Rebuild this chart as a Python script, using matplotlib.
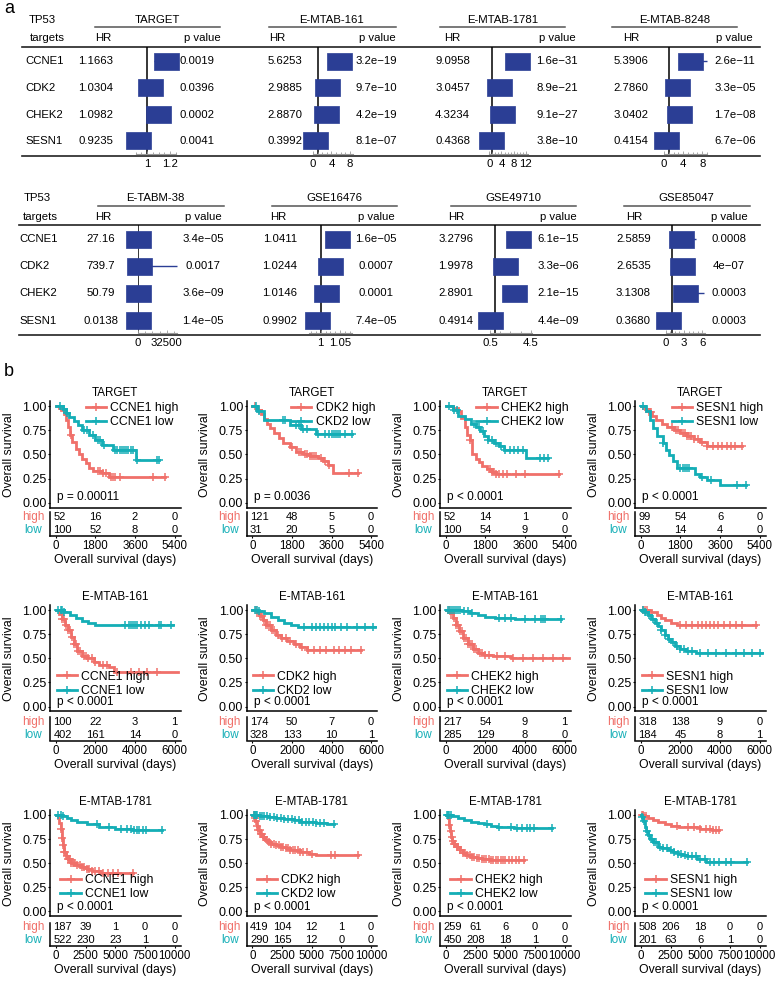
import numpy as np
import matplotlib
matplotlib.use('Agg')
import matplotlib.pyplot as plt
from matplotlib.path import Path
from matplotlib.lines import Line2D
from matplotlib.ticker import AutoMinorLocator
from matplotlib.transforms import blended_transform_factory

plt.rcParams['font.family'] = ['Liberation Sans', 'DejaVu Sans']

W, H = 777, 982
RED = '#F0706A'
TEAL = '#14AEB6'
NAVY = '#2B3E95'

genes = ['CCNE1', 'CDK2', 'CHEK2', 'SESN1']

# ---------------- panel a: cox results ----------------
forest_names = ['TARGET', 'E-MTAB-161', 'E-MTAB-1781', 'E-MTAB-8248',
                'E-TABM-38', 'GSE16476', 'GSE49710', 'GSE85047']
forest_hr = [['1.1663', '1.0304', '1.0982', '0.9235'],
             ['5.6253', '2.9885', '2.8870', '0.3992'],
             ['9.0958', '3.0457', '4.3234', '0.4368'],
             ['5.3906', '2.7860', '3.0402', '0.4154'],
             ['27.16', '739.7', '50.79', '0.0138'],
             ['1.0411', '1.0244', '1.0146', '0.9902'],
             ['3.2796', '1.9978', '2.8901', '0.4914'],
             ['2.5859', '2.6535', '3.1308', '0.3680']]
forest_p = [['0.0019', '0.0396', '0.0002', '0.0041'],
            ['3.2e−19', '9.7e−10', '4.2e−19', '8.1e−07'],
            ['1.6e−31', '8.9e−21', '9.1e−27', '3.8e−10'],
            ['2.6e−11', '3.3e−05', '1.7e−08', '6.7e−06'],
            ['3.4e−05', '0.0017', '3.6e−09', '1.4e−05'],
            ['1.6e−05', '0.0007', '0.0001', '7.4e−05'],
            ['6.1e−15', '3.3e−06', '2.1e−15', '4.4e−09'],
            ['0.0008', '4e−07', '0.0003', '0.0003']]
# 95% CI (mostly hidden behind the boxes)
forest_lo = [[1.06, 1.00, 1.04, 0.89],
             [4.2, 2.1, 2.3, 0.27],
             [6.5, 2.4, 3.3, 0.33],
             [3.3, 1.7, 2.1, 0.28],
             [5.6, 11, 14, 0.002],
             [1.022, 1.010, 1.007, 0.986],
             [2.4, 1.5, 2.2, 0.39],
             [1.5, 1.8, 1.7, 0.21]]
forest_hi = [[1.25, 1.06, 1.15, 0.96],
             [7.5, 4.2, 3.6, 0.58],
             [12.7, 3.9, 5.6, 0.57],
             [8.9, 4.5, 4.4, 0.61],
             [131, 44000, 180, 0.096],
             [1.061, 1.038, 1.023, 0.995],
             [4.4, 2.7, 3.8, 0.62],
             [4.9, 3.9, 6.3, 0.64]]
forest_lim = [(0.9, 1.25), (0, 8.7), (0, 12.8), (0, 9),
              (0, 44000), (0.97, 1.08), (0.5, 4.6), (0, 6.5)]
forest_ticks = [['1', '1.2'], ['0', '4', '8'], ['0', '4', '8', '12'], ['0', '4', '8'],
                ['0', '32500'], ['1', '1.05'], ['0.5', '4.5'], ['0', '3', '6']]

# ---------------- panel b: KM curves ----------------
target_hi_t = {'CCNE1': [0, 150, 250, 350, 450, 550, 650, 750, 900, 1050, 1200, 1350, 1500, 1700, 2100, 2400],
               'CDK2': [0, 220, 370, 520, 670, 810, 1000, 1200, 1400, 1700, 2000, 2300, 2600, 3000, 3200, 3450, 3650],
               'CHEK2': [0, 300, 550, 700, 850, 950, 1100, 1200, 1350, 1500, 1650, 1850, 2100, 2300],
               'SESN1': [0, 200, 350, 500, 700, 950, 1200, 1500, 1800, 2100, 2400, 2700, 3000]}
target_hi_s = {'CCNE1': [1.0, 0.98, 0.96, 0.92, 0.86, 0.78, 0.70, 0.63, 0.56, 0.50, 0.45, 0.41, 0.36, 0.33, 0.31, 0.27],
               'CDK2': [1.0, 0.96, 0.92, 0.87, 0.82, 0.77, 0.72, 0.67, 0.62, 0.58, 0.53, 0.50, 0.48, 0.46, 0.43, 0.39, 0.31],
               'CHEK2': [1.0, 0.98, 0.95, 0.88, 0.78, 0.70, 0.65, 0.50, 0.45, 0.42, 0.38, 0.35, 0.32, 0.30],
               'SESN1': [1.0, 0.97, 0.94, 0.90, 0.86, 0.82, 0.78, 0.75, 0.72, 0.69, 0.66, 0.63, 0.59]}
target_hi_end = {'CCNE1': 4950, 'CDK2': 4800, 'CHEK2': 5150, 'SESN1': 4600}
target_hi_cens = {'CCNE1': [700, 1900, 2000, 2150, 2300, 2500, 2600, 2700, 2900, 4400, 4950],
                  'CDK2': [100, 300, 1800, 2100, 2200, 2400, 2500, 2600, 2700, 2800, 2900, 3100, 3300, 3500, 4400, 4800],
                  'CHEK2': [1100, 2000, 2100, 2200, 2300, 2400, 2600, 2800, 3200, 3600, 5150],
                  'SESN1': [250, 350, 450, 1400, 1600, 1700, 1900, 2000, 2100, 2200, 2300, 2400, 2600, 2800,
                            3000, 3300, 3500, 3700, 3900, 4100, 4300, 4600]}
target_lo_t = {'CCNE1': [0, 300, 450, 600, 800, 1000, 1200, 1500, 1800, 2100, 2600, 3650],
               'CDK2': [0, 220, 520, 1700, 2200, 2900],
               'CHEK2': [0, 300, 550, 850, 1150, 1350, 1550, 1750, 1900, 2200, 2400, 2650, 3650],
               'SESN1': [0, 250, 400, 550, 750, 1000, 1150, 1300, 1450, 1650, 2450, 2700, 3000, 3600]}
target_lo_s = {'CCNE1': [1.0, 0.97, 0.93, 0.89, 0.85, 0.80, 0.75, 0.70, 0.65, 0.60, 0.55, 0.44],
               'CDK2': [1.0, 0.95, 0.86, 0.80, 0.76, 0.71],
               'CHEK2': [1.0, 0.96, 0.90, 0.87, 0.82, 0.78, 0.74, 0.69, 0.65, 0.62, 0.59, 0.55, 0.46],
               'SESN1': [1.0, 0.95, 0.86, 0.77, 0.69, 0.62, 0.55, 0.49, 0.43, 0.36, 0.30, 0.27, 0.24, 0.18]}
target_lo_end = {'CCNE1': 4700, 'CDK2': 4550, 'CHEK2': 4650, 'SESN1': 4800}
target_lo_cens = {'CCNE1': [200, 350, 500, 1300, 1400, 1700, 1900, 2000, 2200, 2700, 2800, 2900, 3000, 3100,
                            3200, 3300, 3400, 3500, 3700, 4600, 4700],
                  'CDK2': [150, 300, 1400, 1500, 2000, 2100, 2300, 2500, 3000, 3300, 3500, 3600, 3700, 3800,
                           3900, 4000, 4200, 4550],
                  'CHEK2': [150, 350, 500, 1300, 1500, 1700, 1900, 2100, 2300, 2500, 2700, 2900, 3100, 3300,
                            3500, 4300, 4450, 4650],
                  'SESN1': [100, 1000, 1800, 1900, 2000, 2100, 2200, 2800, 3200, 4350, 4800]}
target_risk_hi = {'CCNE1': [52, 16, 2, 0], 'CDK2': [121, 48, 5, 0], 'CHEK2': [52, 14, 1, 0], 'SESN1': [99, 54, 6, 0]}
target_risk_lo = {'CCNE1': [100, 52, 8, 0], 'CDK2': [31, 20, 5, 0], 'CHEK2': [100, 54, 9, 0], 'SESN1': [53, 14, 4, 0]}
target_p = {'CCNE1': 'p = 0.00011', 'CDK2': 'p = 0.0036', 'CHEK2': 'p < 0.0001', 'SESN1': 'p < 0.0001'}

emtab161_hi_t = {'CCNE1': [0, 150, 300, 450, 600, 750, 900, 1050, 1300, 1550, 1900, 2200, 2700, 2950],
                 'CDK2': [0, 250, 400, 550, 700, 950, 1200, 1450, 1750, 2100, 2400, 2750],
                 'CHEK2': [0, 200, 350, 500, 650, 850, 1100, 1350, 1600, 1900, 2400, 3300],
                 'SESN1': [0, 500, 800, 1000, 1200, 1500, 1800]}
emtab161_hi_s = {'CCNE1': [1.0, 0.96, 0.91, 0.85, 0.79, 0.72, 0.65, 0.58, 0.52, 0.50, 0.46, 0.43, 0.41, 0.36],
                 'CDK2': [1.0, 0.97, 0.94, 0.90, 0.85, 0.79, 0.74, 0.71, 0.68, 0.65, 0.62, 0.59],
                 'CHEK2': [1.0, 0.97, 0.92, 0.85, 0.78, 0.71, 0.65, 0.60, 0.56, 0.53, 0.52, 0.50],
                 'SESN1': [1.0, 0.98, 0.95, 0.92, 0.90, 0.87, 0.85]}
emtab161_hi_end = {'CCNE1': 6150, 'CDK2': 5500, 'CHEK2': 6200, 'SESN1': 5800}
emtab161_hi_cens = {'CCNE1': [300, 400, 500, 600, 700, 800, 900, 1000, 1100, 1200, 1400, 1500, 1600, 1800,
                              2000, 2400, 2600, 3100, 3800, 4200, 4600, 5100],
                    'CDK2': [200, 400, 500, 600, 700, 800, 900, 1000, 1100, 1300, 1500, 1700, 1900, 2200,
                             2500, 2800, 3100, 3400, 3700, 4100, 4400, 4700, 5000, 5500],
                    'CHEK2': [150, 250, 400, 500, 600, 700, 800, 900, 1000, 1100, 1200, 1300, 1400, 1500,
                              1700, 1800, 2000, 2200, 2600, 3000, 3400, 3900, 4400, 4900, 5400, 5900],
                    'SESN1': [100, 200, 300, 2000, 2300, 2600, 2900, 3100, 3300, 3500, 3700, 3900, 4200,
                              4500, 4800, 5100, 5800]}
emtab161_lo_t = {'CCNE1': [0, 400, 700, 1000, 1300, 1600, 2000],
                 'CDK2': [0, 300, 600, 950, 1300, 1600, 1950, 2300],
                 'CHEK2': [0, 800, 1200, 1600, 2000, 2500, 3500],
                 'SESN1': [0, 200, 360, 500, 700, 850, 1000, 1200, 1350, 1500, 1700, 2000, 2300, 2800, 3200]}
emtab161_lo_s = {'CCNE1': [1.0, 0.98, 0.95, 0.92, 0.89, 0.87, 0.85],
                 'CDK2': [1.0, 0.99, 0.97, 0.93, 0.90, 0.87, 0.84, 0.82],
                 'CHEK2': [1.0, 0.99, 0.97, 0.95, 0.93, 0.92, 0.91],
                 'SESN1': [1.0, 0.98, 0.95, 0.91, 0.87, 0.83, 0.79, 0.74, 0.70, 0.67, 0.63, 0.60, 0.58, 0.56, 0.55]}
emtab161_lo_end = {'CCNE1': 5900, 'CDK2': 6200, 'CHEK2': 5800, 'SESN1': 6100}
emtab161_lo_cens = {'CCNE1': [100, 250, 300, 400, 3500, 3700, 3800, 3900, 4000, 4100, 4300, 4500, 4700,
                              5200, 5300, 5800],
                    'CDK2': [150, 250, 350, 2600, 3000, 3200, 3400, 3600, 3800, 4000, 4200, 4500, 4800,
                             5300, 5700, 6100],
                    'CHEK2': [100, 200, 300, 400, 500, 600, 700, 900, 1100, 1300, 2700, 3000, 3300, 4000,
                              4500, 4800, 4900, 5000, 5800],
                    'SESN1': [100, 200, 400, 600, 800, 1000, 1200, 1400, 1600, 1800, 2000, 2200, 2400, 2600,
                              3000, 3400, 3800, 4300, 4800, 5200, 5600, 6000]}
emtab161_risk_hi = {'CCNE1': [100, 22, 3, 1], 'CDK2': [174, 50, 7, 0], 'CHEK2': [217, 54, 9, 1], 'SESN1': [318, 138, 9, 0]}
emtab161_risk_lo = {'CCNE1': [402, 161, 14, 0], 'CDK2': [328, 133, 10, 1], 'CHEK2': [285, 129, 8, 0], 'SESN1': [184, 45, 8, 1]}

emtab1781_hi_t = {'CCNE1': [0, 150, 300, 400, 500, 600, 700, 850, 1000, 1300, 1700, 2100, 2600, 3000, 3700],
                  'CDK2': [0, 150, 250, 350, 500, 650, 850, 1050, 1300, 1600, 2000, 2400, 2800, 3200, 4000, 4800, 5400],
                  'CHEK2': [0, 150, 250, 350, 450, 550, 700, 900, 1150, 1400, 1700, 2100, 2600, 3000, 3700],
                  'SESN1': [0, 300, 600, 1000, 1400, 2000, 2500, 3200, 3900, 5000, 6000]}
emtab1781_hi_s = {'CCNE1': [1.0, 0.97, 0.92, 0.85, 0.76, 0.69, 0.62, 0.57, 0.54, 0.50, 0.48, 0.46, 0.44, 0.42, 0.40],
                  'CDK2': [1.0, 0.97, 0.94, 0.89, 0.84, 0.80, 0.77, 0.74, 0.72, 0.70, 0.685, 0.67, 0.655, 0.64,
                           0.62, 0.60, 0.585],
                  'CHEK2': [1.0, 0.97, 0.90, 0.83, 0.77, 0.73, 0.70, 0.67, 0.64, 0.61, 0.59, 0.565, 0.55, 0.54, 0.53],
                  'SESN1': [1.0, 0.99, 0.97, 0.95, 0.925, 0.905, 0.89, 0.88, 0.87, 0.855, 0.845]}
emtab1781_hi_end = {'CCNE1': 6500, 'CDK2': 8900, 'CHEK2': 6600, 'SESN1': 6600}
emtab1781_hi_cens = {'CCNE1': [400, 500, 600, 700, 800, 900, 1000, 1100, 1200, 1300, 1400, 1500, 1600, 1800,
                               2000, 2200, 2400, 2600, 2800, 3000, 3300, 3600, 4000, 4400, 4800, 5200, 6500],
                     'CDK2': [100, 200, 300, 400, 500, 600, 700, 800, 900, 1000, 1200, 1400, 1600, 1800, 2000,
                              2200, 2400, 2600, 2800, 3000, 3200, 3400, 3600, 3800, 4000, 4300, 4600, 5000,
                              6600, 7000, 8900],
                     'CHEK2': [300, 400, 500, 600, 700, 800, 900, 1000, 1200, 1400, 1600, 1800, 2000, 2200,
                               2400, 2600, 2800, 3000, 3200, 3400, 3600, 3800, 4000, 4200, 4400, 4600, 4800,
                               5000, 5300, 5600, 5900, 6200, 6600],
                     'SESN1': [100, 200, 300, 400, 3000, 4000, 4500, 5000, 5500, 5800, 6100, 6300, 6600]}
emtab1781_lo_t = {'CCNE1': [0, 500, 900, 1300, 1800, 2600, 3600, 5000, 6400],
                  'CDK2': [0, 600, 1300, 2000, 2700, 3500, 4000, 5400, 6300],
                  'CHEK2': [0, 500, 1000, 1500, 2100, 2700, 3200, 3800, 4300, 5000, 5700],
                  'SESN1': [0, 100, 200, 330, 450, 600, 800, 1000, 1400, 1800, 2250, 2700, 3100, 3500, 3900,
                            4700, 5500]}
emtab1781_lo_s = {'CCNE1': [1.0, 0.99, 0.97, 0.95, 0.93, 0.91, 0.88, 0.855, 0.84],
                  'CDK2': [1.0, 0.99, 0.98, 0.97, 0.96, 0.945, 0.93, 0.92, 0.905],
                  'CHEK2': [1.0, 0.99, 0.97, 0.95, 0.93, 0.915, 0.905, 0.89, 0.88, 0.87, 0.86],
                  'SESN1': [1.0, 0.98, 0.94, 0.88, 0.83, 0.79, 0.755, 0.72, 0.67, 0.655, 0.64, 0.62, 0.60,
                            0.585, 0.57, 0.54, 0.515]}
emtab1781_lo_end = {'CCNE1': 8950, 'CDK2': 6900, 'CHEK2': 8900, 'SESN1': 8900}
emtab1781_lo_cens = {'CCNE1': [200, 400, 600, 3500, 4500, 5500, 6000, 6300, 6600, 6800, 7000, 7300, 7600, 8950],
                     'CDK2': [100, 200, 300, 400, 600, 800, 1000, 1200, 1500, 1800, 2100, 2400, 2700, 3000,
                              3300, 3600, 3900, 4200, 4500, 4800, 5100, 5400, 5700, 6000, 6900],
                     'CHEK2': [100, 200, 300, 400, 3500, 4500, 5500, 6000, 6400, 6800, 7100, 7400, 8900],
                     'SESN1': [100, 300, 500, 700, 900, 1100, 1300, 1600, 1900, 2200, 2500, 2800, 3100, 3400,
                               3700, 4000, 4300, 4600, 5000, 5400, 5800, 6200, 6600, 7200, 7600, 8900]}
emtab1781_risk_hi = {'CCNE1': [187, 39, 1, 0, 0], 'CDK2': [419, 104, 12, 1, 0],
                     'CHEK2': [259, 61, 6, 0, 0], 'SESN1': [508, 206, 18, 0, 0]}
emtab1781_risk_lo = {'CCNE1': [522, 230, 23, 1, 0], 'CDK2': [290, 165, 12, 0, 0],
                     'CHEK2': [450, 208, 18, 1, 0], 'SESN1': [201, 63, 6, 1, 0]}

km_cohorts = ['TARGET', 'E-MTAB-161', 'E-MTAB-1781']
km_ticks = [[0, 1800, 3600, 5400], [0, 2000, 4000, 6000], [0, 2500, 5000, 7500, 10000]]
low_names = {'CCNE1': 'CCNE1 low', 'CDK2': 'CKD2 low', 'CHEK2': 'CHEK2 low', 'SESN1': 'SESN1 low'}

hi_t = [target_hi_t, emtab161_hi_t, emtab1781_hi_t]
hi_s = [target_hi_s, emtab161_hi_s, emtab1781_hi_s]
hi_end = [target_hi_end, emtab161_hi_end, emtab1781_hi_end]
hi_cens = [target_hi_cens, emtab161_hi_cens, emtab1781_hi_cens]
lo_t = [target_lo_t, emtab161_lo_t, emtab1781_lo_t]
lo_s = [target_lo_s, emtab161_lo_s, emtab1781_lo_s]
lo_end = [target_lo_end, emtab161_lo_end, emtab1781_lo_end]
lo_cens = [target_lo_cens, emtab161_lo_cens, emtab1781_lo_cens]
risk_hi = [target_risk_hi, emtab161_risk_hi, emtab1781_risk_hi]
risk_lo = [target_risk_lo, emtab161_risk_lo, emtab1781_risk_lo]


def rect(x0, y0, x1, y1):
    # pixel box -> figure fraction
    return [x0 / W, 1 - y1 / H, (x1 - x0) / W, (y1 - y0) / H]


fig = plt.figure(figsize=(W / 100, H / 100), dpi=100)

tab = fig.add_axes([0, 0, 1, 1])
tab.set_xlim(0, W)
tab.set_ylim(H, 0)
tab.axis('off')

tab.text(4, 8, 'a', fontsize=13, ha='left', va='center')
tab.text(4, 372, 'b', fontsize=13, ha='left', va='center')

# ---------------- panel a ----------------
# name x, underline x0/x1, hr x, hr header x, p x, p header x, axis px0/px1
blocks = [(157.5, 95, 220, 96, 103, 197, 202.5, 135.5, 175.75),
          (331, 269, 396, 284.5, 277, 376, 377, 313.1, 353.1),
          (502.5, 440, 565, 452.5, 452.5, 557, 557, 489.25, 528.3),
          (674.5, 612, 737, 631, 631.7, 735, 734.5, 664, 707),
          (155, 98, 224, 101, 103, 203, 203.5, 138, 177),
          (334.5, 272, 397, 280, 278, 376, 376, 309.1, 351.6),
          (513.5, 451, 576, 455.7, 456, 558, 558, 490, 532),
          (686.5, 624, 750, 633.5, 634, 729, 729, 665.7, 705.3)]
# name y, underline y, header y, top line y, axis y, bottom line y, gene x, line x0, TP53 x, targets x
rows_a = [(20, 27.3, 38, 46.7, 153.8, 155.6, 25, 22, 42.5, 47),
          (198.3, 206, 217, 225, 333.0, 334.8, 19, 19, 37.5, 40.5)]

box = Path([(-1, -0.68), (1, -0.68), (1, 0.68), (-1, 0.68), (-1, -0.68)],
           [Path.MOVETO, Path.LINETO, Path.LINETO, Path.LINETO, Path.CLOSEPOLY])
fs_a = 8.2

for r, (yn, yu, yh, ytop, yax, ybot, gx, lx0, tpx, tgx) in enumerate(rows_a):
    tab.text(tpx, yn, 'TP53', fontsize=fs_a, ha='center', va='center')
    tab.text(tgx, yh, 'targets', fontsize=fs_a, ha='center', va='center')
    tab.plot([lx0, 760], [ytop, ytop], color='#222222', lw=1.2)
    tab.plot([lx0, 760], [ybot, ybot], color='#222222', lw=1.2)
    rows_y = np.linspace(ytop + 14.2, ybot - 14.2, 4)
    for g, yy in zip(genes, rows_y):
        tab.text(gx, yy, g, fontsize=fs_a, ha='left', va='center')

    for k in range(r * 4, r * 4 + 4):
        nx, u0, u1, hx, hhx, px, phx, a0, a1 = blocks[k]
        tab.text(nx, yn, forest_names[k], fontsize=fs_a, ha='center', va='center')
        tab.plot([u0, u1], [yu, yu], color='#555555', lw=1.1)
        tab.text(hhx, yh, 'HR', fontsize=fs_a, ha='center', va='center')
        tab.text(phx, yh, 'p value', fontsize=fs_a, ha='center', va='center')
        for i, yy in enumerate(rows_y):
            tab.text(hx, yy, forest_hr[k][i], fontsize=fs_a, ha='center', va='center')
            tab.text(px, yy, forest_p[k][i], fontsize=fs_a, ha='center', va='center')

        ax = fig.add_axes(rect(a0, ytop, a1, yax))
        ax.set_xlim(*forest_lim[k])
        ax.set_ylim(3.5, -0.525)
        yv = np.arange(4)
        hr = [float(v) for v in forest_hr[k]]
        ax.hlines(yv, forest_lo[k], forest_hi[k], color=NAVY, lw=1.0, clip_on=False, zorder=2)
        ax.plot(hr, yv, ls='none', marker=box, ms=18, color=NAVY, mec=NAVY, mew=0.5,
                clip_on=False, zorder=3)
        ax.axvline(1, color='black', lw=1.1, zorder=1)
        ax.patch.set_visible(False)
        for s in ['top', 'left', 'right']:
            ax.spines[s].set_visible(False)
        ax.spines['bottom'].set_color('#999999')
        ax.spines['bottom'].set_linewidth(0.8)
        ax.set_yticks([])
        ax.set_xticks([float(t) for t in forest_ticks[k]])
        ax.set_xticklabels(forest_ticks[k])
        ax.xaxis.set_minor_locator(AutoMinorLocator(4))
        ax.tick_params(axis='x', which='both', direction='in', color='#999999', width=0.6,
                       labelsize=fs_a, pad=3.5)
        ax.tick_params(axis='x', which='major', length=2.5)
        ax.tick_params(axis='x', which='minor', length=1.8)

# ---------------- panel b ----------------
col_x = [50, 246.5, 440, 635]
km_w = 130.5
plot_top = [401.3, 605.2, 810.1]
plot_h = 106.2
risk_top = [512, 717, 922.5]
risk_h = 23.5


def surv_at(t, s, c):
    idx = np.searchsorted(t, c, side='right') - 1
    return np.asarray(s)[idx]


for r, cohort in enumerate(km_cohorts):
    xmax = km_ticks[r][-1]
    xl = (-0.05 * xmax, 1.05 * xmax)
    for c, g in enumerate(genes):
        x0 = col_x[c]
        ax = fig.add_axes(rect(x0, plot_top[r], x0 + km_w, plot_top[r] + plot_h))
        for t, s, e, cs, col in [(hi_t[r][g], hi_s[r][g], hi_end[r][g], hi_cens[r][g], RED),
                                 (lo_t[r][g], lo_s[r][g], lo_end[r][g], lo_cens[r][g], TEAL)]:
            ax.step(list(t) + [e], list(s) + [s[-1]], where='post', color=col, lw=2.0,
                    solid_joinstyle='miter')
            ax.plot(cs, surv_at(t, s, cs), ls='none', marker='+', ms=6, mew=1.1, color=col)
        ax.set_xlim(*xl)
        ax.set_ylim(-0.05, 1.05)
        ax.set_xticks([])
        ax.set_yticks([0, 0.25, 0.5, 0.75, 1.0])
        ax.set_yticklabels(['0.00', '0.25', '0.50', '0.75', '1.00'])
        ax.tick_params(axis='y', labelsize=9, length=1.5, width=0.8, pad=1)
        for s in ['top', 'right']:
            ax.spines[s].set_visible(False)
        for s in ['left', 'bottom']:
            ax.spines[s].set_linewidth(1.1)
        ax.set_title(cohort, fontsize=8.4, pad=4)
        ax.set_ylabel('Overall survival', fontsize=8.8)
        ax.yaxis.set_label_coords(-0.27, 0.5)

        handles = [Line2D([], [], color=RED, lw=2.0, marker='+', ms=6, mew=1.1),
                   Line2D([], [], color=TEAL, lw=2.0, marker='+', ms=6, mew=1.1)]
        if r == 0:
            loc, anchor = 'upper right', (0.985, 0.995)
            ptxt, py = target_p[g], 0.10
        else:
            loc = 'lower left'
            anchor = (0.05, 0.135) if r == 1 else (0.08, 0.15)
            ptxt, py = 'p < 0.0001', 0.085
        ax.legend(handles, [g + ' high', low_names[g]], loc=loc, bbox_to_anchor=anchor,
                  frameon=False, fontsize=8.8, handlelength=1.65, handletextpad=0.35,
                  labelspacing=0.2, borderaxespad=0, borderpad=0)
        ax.text(0.055, py, ptxt, transform=ax.transAxes, fontsize=8.6, ha='left', va='center')

        # risk table
        rk = fig.add_axes(rect(x0, risk_top[r], x0 + km_w, risk_top[r] + risk_h))
        rk.set_xlim(*xl)
        rk.set_ylim(1.45, -0.35)
        rk.set_yticks([])
        rk.set_xticks(km_ticks[r])
        rk.set_xticklabels([str(v) for v in km_ticks[r]])
        rk.tick_params(axis='x', labelsize=8.3, length=1.5, width=0.8, pad=1.5)
        for s in ['top', 'right']:
            rk.spines[s].set_visible(False)
        for s in ['left', 'bottom']:
            rk.spines[s].set_linewidth(1.1)
        rk.set_xlabel('Overall survival (days)', fontsize=8.8, labelpad=1.5)
        bt = blended_transform_factory(rk.transAxes, rk.transData)
        rk.text(-0.128, 0, 'high', color=RED, fontsize=8.5, ha='center', va='center', transform=bt)
        rk.text(-0.128, 1, 'low', color=TEAL, fontsize=8.5, ha='center', va='center', transform=bt)
        for j, tv in enumerate(km_ticks[r]):
            ha = 'left' if j == 0 else 'center'
            xx = tv - 0.02 * xmax if j == 0 else tv
            rk.text(xx, 0, str(risk_hi[r][g][j]), fontsize=8, ha=ha, va='center')
            rk.text(xx, 1, str(risk_lo[r][g][j]), fontsize=8, ha=ha, va='center')

fig.savefig('out.png', dpi=100)
